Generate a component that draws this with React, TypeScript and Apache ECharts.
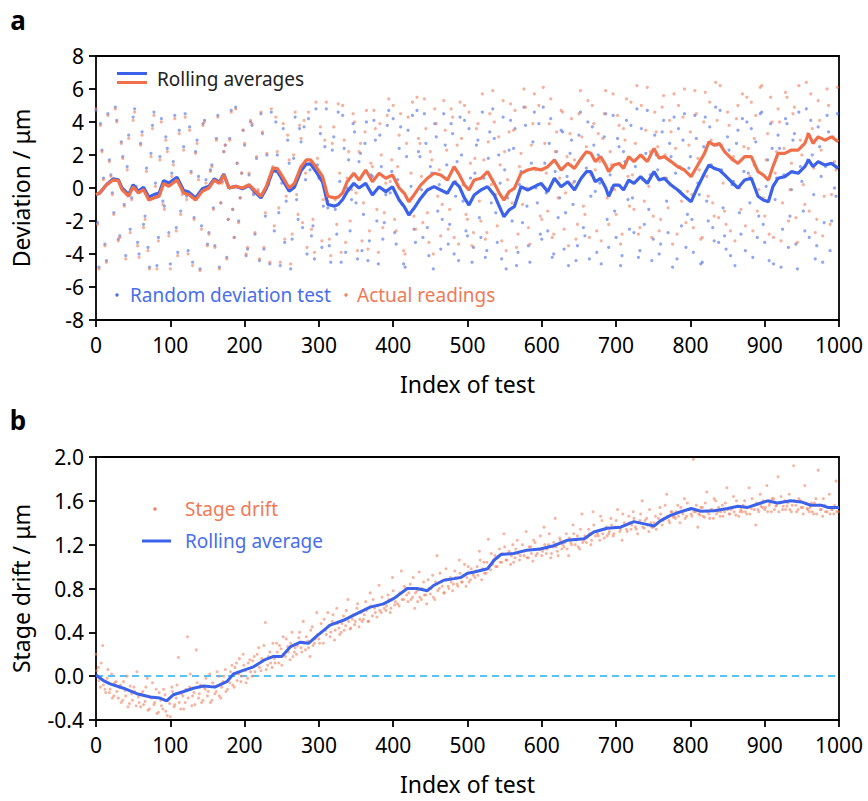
import React, { useEffect, useRef } from "react";
import * as echarts from "echarts";

const FONT = "'Noto Sans', sans-serif";
const BLUE = "#3B62E8";
const ORANGE = "#F0704C";
const BLUE_DOT = "#4C70EA";
const ORANGE_DOT = "#F2805E";
const SKY = "#55C3F5";

const indexTicks = [0, 100, 200, 300, 400, 500, 600, 700, 800, 900, 1000];
const deviationTicks = [-8, -6, -4, -2, 0, 2, 4, 6, 8];
const driftTicks = [-0.4, 0, 0.4, 0.8, 1.2, 1.6, 2.0];

// Panel a: scatter values at test indices 0,4,8,... (set A) and 2,6,10,... (set B)
const STEP_A = 4;
const randomDeviation = [
  4.7, -4.8, 2.3, -3.4, 4.5, 0.8, -1.5, 4.1, -2.9, 1.9,
  -4.1, 3.2, -0.6, 4.8, -3.3, 2.7, -2.2, 1.2, -4.8, 3.8,
  0.3, -3.0, 4.2, -1.1, 2.4, -4.6, 1.6, -2.4, 3.5, -0.2,
  4.5, -3.8, 1.0, -1.8, 2.9, -4.9, 3.9, 0.5, -2.7, 1.4,
  -3.5, 4.4, -0.9, 2.2, -4.2, 3.0, -1.3, 4.9, -2.0, 0.9,
  2.6, -3.7, 4.0, -0.4, 1.8, -4.4, 3.3, -1.7, 0.2, 4.6,
  -2.6, 2.0, -4.7, 3.6, -0.8, 1.5, -3.1, 4.3, -1.9, 2.8,
  3.7, -4.0, 1.1, -2.3, 4.8, 0.6, -3.6, 2.5, -1.2, -4.5,
  3.1, -2.8, 0.4, 4.4, -3.9, 1.7, -0.7, 3.4, -4.3, 2.1,
  -1.6, 4.0, -3.2, 0.7, 2.9, -4.6, 1.3, -2.1, 3.8, -0.3,
  4.2, -3.4, 2.4, -1.0, -4.8, 3.5, 0.1, -2.5, 4.7, 1.9,
  -3.0, 2.7, -4.1, 0.9, 3.9, -1.4, -3.7, 4.5, 1.4, -2.2,
  3.3, -0.5, -4.4, 2.0, 4.1, -2.9, 0.6, -3.6, 2.6, -1.8,
  4.6, -4.2, 1.8, -0.9, 3.0, -3.3, 0.3, 4.3, -4.9, 2.3,
  -2.0, 3.6, -3.9, 1.0, 4.9, -1.1, -4.5, 2.8, 0.0, 3.9,
  -3.1, 1.5, -2.6, 4.2, -4.0, 2.2, -0.6, 3.4, -1.5, -4.7,
  2.9, 0.4, -3.5, 4.6, -2.4, 1.2, -4.3, 3.7, -0.2, 2.0,
  -4.6, 3.1, -1.9, 0.8, 4.4, -3.0, 2.5, -4.1, 1.6, -0.7,
  3.8, -2.7, 4.8, -3.8, 0.5, 2.1, -1.3, -4.4, 3.2, 1.1,
  -3.4, 4.1, -0.8, 2.7, -4.8, 0.9, 3.6, -2.3, 4.5, -1.6,
  1.9, -3.9, 3.0, -0.4, -4.5, 4.3, -2.0, 1.4, -3.2, 2.6,
  4.7, -1.2, -3.7, 2.3, 0.2, -4.7, 3.5, -2.8, 1.0, 4.0,
  -0.9, -4.2, 2.8, -1.7, 4.6, -3.3, 1.7, 3.9, -4.6, 0.6,
  2.4, -2.5, 4.2, -3.6, -0.1, 3.3, -4.9, 1.3, -1.4, 4.8,
  -3.0, 2.0, -4.3, 3.7, 0.7, -2.1, 4.4, -3.8, 1.5, -0.5,
];
const randomDeviationB = [
  -2.1, 3.9, 0.6, -4.4, 1.7, -0.3, 4.9, -3.1, 2.8, -1.0,
  1.3, -2.5, 4.3, 0.1, -4.0, 3.4, -1.7, -3.6, 2.1, 4.6,
  -4.7, 1.9, -0.8, 3.1, -2.7, 0.9, 4.4, -3.9, -1.4, 2.5,
  -0.5, 3.7, -4.5, 2.2, 0.7, -2.3, 4.1, -3.4, 1.1, -1.2,
  3.0, -4.8, 0.4, 2.6, -1.9, 4.7, -3.0, 1.5, -0.6, 3.5,
  -4.1, 0.8, 3.8, -2.8, -0.2, 4.5, -3.7, 2.0, -4.6, 1.2,
  4.0, -1.5, 0.3, -3.3, 2.9, -4.9, 1.8, -0.7, 3.6, -2.4,
  0.5, 4.2, -2.9, -4.3, 1.4, 3.3, -1.1, 4.8, -3.5, 2.3,
  -1.3, 4.6, -4.5, 2.4, 0.0, -2.6, 3.9, -0.9, 1.6, -3.8,
  2.7, -4.4, 0.8, 4.1, -2.0, 3.2, -3.1, -0.4, 4.7, 1.0,
  -2.7, 0.5, 3.7, -4.6, 1.9, -1.6, 4.4, -3.3, 2.2, -0.1,
  4.5, -2.4, 1.3, -4.9, 3.1, 0.2, -1.9, 2.6, -3.4, 3.9,
  -4.0, 1.6, 4.3, -0.8, -2.6, 3.6, -4.5, 0.9, 2.9, -3.0,
  0.6, -3.8, 3.4, 4.8, -1.5, 2.0, -4.3, 1.1, -0.6, 4.1,
  2.4, -4.7, 0.2, -2.1, 3.8, -3.5, 1.5, 4.6, -0.9, -2.8,
  4.9, -0.3, 2.7, -4.2, 1.0, -1.8, 3.5, -3.7, 0.7, 2.1,
  -1.0, -4.4, 3.2, 1.8, -2.9, 4.0, -0.5, 2.6, -3.9, 0.3,
  1.7, 4.5, -3.6, 0.0, -1.4, 3.0, -4.7, 2.2, 4.1, -2.5,
  -0.6, 1.3, -4.2, 3.6, -2.2, 4.7, 0.8, -3.1, 2.0, -4.0,
  3.4, 0.6, -2.7, 1.9, 4.3, -4.3, -0.2, 2.9, -3.6, 1.2,
  -1.9, 4.4, 0.3, -4.6, 2.5, -0.8, 3.7, -2.4, 4.9, -3.3,
  1.1, -2.9, 3.1, -4.1, 0.4, 2.7, -1.5, 4.2, -3.8, 0.9,
  3.6, 1.4, -3.0, 4.5, -2.2, 0.1, -4.4, 2.4, -0.7, 3.2,
  -4.8, 0.8, 3.9, -1.7, 2.9, -3.4, 4.6, 0.4, -2.6, 1.7,
  4.1, -0.4, -3.5, 2.5, -4.5, 1.3, 3.4, -2.0, 0.0, 4.5,
];
const actualReadings = [
  4.8, -4.9, 2.2, -3.5, 4.4, 0.7, -1.6, 4.0, -3.0, 1.8,
  -4.3, 3.0, -0.7, 4.6, -3.5, 2.6, -2.4, 1.0, -4.9, 3.6,
  0.1, -3.2, 4.0, -1.3, 2.2, -4.9, 1.4, -2.6, 3.3, -0.4,
  4.3, -4.0, 0.9, -1.9, 2.7, -5.0, 3.8, 0.3, -2.8, 1.3,
  -3.6, 4.3, -0.9, 2.2, -4.3, 2.9, -1.3, 4.8, -2.1, 0.9,
  2.7, -3.6, 4.1, -0.3, 1.9, -4.3, 3.4, -1.5, 0.3, 4.8,
  -2.3, 2.2, -4.5, 3.9, -0.5, 1.7, -2.8, 4.6, -1.6, 3.0,
  4.1, -3.6, 1.5, -1.9, 5.2, 1.0, -3.2, 2.9, -0.8, -4.1,
  3.7, -2.2, 0.9, 5.0, -3.3, 2.2, -0.1, 4.0, -3.8, 2.7,
  -0.9, 4.7, -2.6, 1.3, 3.6, -3.9, 2.0, -1.5, 4.4, 0.4,
  5.0, -2.6, 3.2, -0.2, -4.0, 4.3, 0.9, -1.7, 5.5, 2.7,
  -2.1, 3.6, -3.3, 1.7, 4.8, -0.5, -2.9, 5.3, 2.3, -1.3,
  4.3, 0.4, -3.4, 3.0, 5.0, -1.9, 1.5, -2.7, 3.6, -0.8,
  5.7, -3.1, 2.8, 0.2, 4.0, -2.3, 1.4, 5.3, -3.8, 3.4,
  -0.9, 4.7, -2.8, 2.1, 6.0, 0.0, -3.4, 3.9, 1.1, 5.0,
  -1.9, 2.7, -1.4, 5.4, -2.8, 3.4, 0.6, 4.6, -0.3, -3.5,
  4.2, 1.7, -2.2, 5.9, -1.1, 2.5, -3.0, 5.0, 1.1, 3.3,
  -3.2, 4.5, -0.6, 2.2, 5.7, -1.6, 3.8, -2.8, 2.9, 0.7,
  5.2, -1.3, 6.2, -2.4, 1.9, 3.5, 0.1, -3.0, 4.6, 2.5,
  -1.9, 5.6, 0.6, 4.1, -3.4, 2.4, 5.0, -0.8, 6.0, -0.2,
  3.4, -2.4, 4.5, 1.1, -3.0, 5.8, -0.5, 2.9, -1.7, 4.1,
  6.2, 0.3, -2.2, 3.8, 1.7, -3.2, 5.0, -1.3, 2.5, 5.5,
  0.7, -2.6, 4.4, -0.1, 6.2, -1.7, 3.3, 5.5, -3.0, 2.2,
  4.0, -0.9, 5.8, -2.0, 1.5, 4.9, -3.3, 2.9, 0.2, 6.4,
  -1.4, 3.6, -2.7, 5.3, 2.3, -0.5, 6.0, -2.2, 3.1, 1.1,
];
const actualReadingsB = [
  -2.2, 3.8, 0.5, -4.5, 1.6, -0.4, 4.8, -3.2, 2.7, -1.1,
  1.1, -2.7, 4.1, -0.1, -4.2, 3.2, -1.9, -3.8, 1.9, 4.4,
  -4.9, 1.7, -1.0, 2.9, -2.9, 0.7, 4.2, -4.1, -1.6, 2.3,
  -0.7, 3.5, -4.7, 2.1, 0.5, -2.5, 4.0, -3.5, 1.0, -1.3,
  2.9, -4.9, 0.3, 2.6, -1.9, 4.6, -3.0, 1.5, -0.6, 3.5,
  -4.0, 0.9, 3.9, -2.7, -0.1, 4.6, -3.6, 2.1, -4.5, 1.3,
  4.3, -1.2, 0.5, -3.1, 3.2, -4.6, 2.0, -0.4, 3.8, -2.1,
  0.9, 4.6, -2.5, -3.9, 1.8, 3.7, -0.7, 5.2, -3.1, 2.7,
  -0.7, 5.1, -3.9, 2.9, 0.6, -2.0, 4.5, -0.3, 2.2, -3.2,
  3.4, -3.7, 1.5, 4.7, -1.3, 3.9, -2.4, 0.3, 5.4, 1.7,
  -1.9, 1.3, 4.5, -3.8, 2.7, -0.8, 5.2, -2.5, 3.0, 0.7,
  5.4, -1.5, 2.2, -4.0, 3.9, 1.1, -1.0, 3.5, -2.5, 4.8,
  -3.0, 2.6, 5.2, 0.2, -1.6, 4.6, -3.5, 1.8, 3.9, -2.0,
  1.7, -2.7, 4.5, 5.9, -0.4, 3.1, -3.2, 2.2, 0.5, 5.1,
  3.5, -3.6, 1.3, -1.0, 4.9, -2.4, 2.6, 5.7, 0.2, -1.7,
  6.1, 0.9, 3.9, -3.0, 2.2, -0.6, 4.7, -2.5, 1.9, 3.3,
  0.3, -3.1, 4.5, 3.1, -1.6, 5.3, 0.8, 3.9, -2.6, 1.6,
  3.0, 5.9, -2.2, 1.4, -0.1, 4.4, -3.4, 3.6, 5.4, -1.1,
  0.8, 2.7, -2.8, 5.0, -0.8, 6.1, 2.2, -1.7, 3.4, -2.6,
  4.9, 2.0, -1.2, 3.4, 5.7, -2.8, 1.3, 4.3, -2.1, 2.6,
  -0.4, 5.9, 1.8, -3.1, 4.0, 0.7, 5.2, -0.9, 6.4, -1.8,
  2.6, -1.4, 4.6, -2.6, 1.9, 4.2, 0.0, 5.7, -2.3, 2.4,
  5.2, 3.0, -1.4, 6.1, -0.6, 1.7, -2.8, 4.0, 0.9, 4.8,
  -3.2, 2.4, 5.5, -0.1, 4.5, -1.8, 6.2, 2.0, -1.0, 3.3,
  5.7, 1.2, -1.9, 4.1, -2.9, 2.9, 5.0, -0.4, 1.6, 6.1,
];

// Panel a: rolling averages [test index, value]
const randomRolling = [
  [0, -0.4], [5, -0.3], [14, 0.2], [23, 0.55], [30, 0.5], [35, 0.0], [44, -0.4], [50, 0.2],
  [57, -0.2], [64, 0.05], [71, -0.55], [78, -0.4], [85, -0.3], [91, 0.45], [98, 0.3], [109, 0.65],
  [118, -0.15], [125, -0.25], [134, -0.6], [143, -0.05], [152, 0.1], [159, 0.55], [166, 0.35],
  [172, 0.85], [179, 0.0], [188, 0.1], [197, -0.05], [206, 0.15], [215, -0.3], [222, -0.6],
  [229, -0.05], [238, 1.05], [244, 1.0], [251, 0.5], [260, -0.2], [267, 0.05], [276, 1.05],
  [283, 1.45], [289, 1.45], [296, 1.0], [305, 0.35], [312, -1.0], [321, -1.1], [326, -1.0],
  [332, -0.7], [338, -0.22], [347, 0.28], [354, 0.0], [363, 0.28], [372, -0.42], [381, 0.08],
  [390, -0.22], [399, 0.08], [408, -0.73], [415, -1.13], [421, -1.64], [428, -1.23], [437, -0.62],
  [446, -0.12], [455, 0.08], [464, -0.12], [473, -0.32], [482, 0.38], [489, 0.08], [496, -0.62],
  [502, -1.03], [509, -0.42], [518, -0.12], [527, 0.08], [536, -0.42], [543, -1.13], [549, -1.74],
  [556, -1.33], [563, -1.13], [572, 0.08], [581, -0.12], [590, 0.08], [599, 0.28], [608, -0.22],
  [617, 0.59], [626, 0.08], [635, 0.38], [644, -0.12], [653, 0.59], [660, 0.99], [666, 0.99],
  [672, 0.38], [679, 0.59], [686, 0.0], [690, -0.5], [697, 0.18], [704, 0.18], [710, -0.12],
  [717, 0.48], [724, 0.28], [733, 0.69], [742, 0.28], [751, 0.99], [758, 0.48], [765, 0.59],
  [774, 0.18], [783, -0.12], [792, -0.5], [801, -0.83], [810, 0.08], [819, 0.89], [825, 1.39],
  [832, 1.19], [839, 1.09], [846, 0.79], [855, 0.38], [864, 0.0], [873, 0.48], [882, 0.59],
  [891, -0.5], [898, -0.73], [905, -0.83], [911, 0.08], [918, 0.59], [927, 0.69], [936, 0.99],
  [945, 0.89], [954, 1.29], [959, 1.7], [965, 1.29], [972, 1.6], [981, 1.39], [990, 1.49], [999, 1.19],
];
const actualRolling = [
  [0, -0.4], [5, -0.3], [14, 0.18], [23, 0.48], [30, 0.45], [35, -0.1], [44, -0.5], [50, 0.08],
  [57, -0.3], [64, -0.1], [71, -0.73], [78, -0.6], [85, -0.5], [91, 0.28], [98, 0.1], [109, 0.48],
  [118, -0.3], [125, -0.4], [134, -0.73], [143, -0.2], [152, 0.0], [159, 0.48], [166, 0.28],
  [172, 0.79], [179, 0.0], [188, 0.1], [197, 0.0], [206, 0.2], [215, -0.2], [222, -0.5],
  [229, 0.08], [238, 1.19], [244, 1.19], [251, 0.69], [260, 0.0], [267, 0.28], [276, 1.29],
  [283, 1.7], [289, 1.7], [296, 1.29], [305, 0.69], [312, -0.5], [321, -0.6], [326, -0.55],
  [332, -0.3], [338, 0.38], [347, 0.89], [354, 0.48], [363, 1.09], [372, 0.38], [381, 0.89],
  [390, 0.59], [399, 0.79], [408, 0.0], [415, -0.32], [421, -0.83], [428, -0.42], [437, 0.18],
  [446, 0.59], [455, 0.89], [464, 0.79], [473, 0.48], [482, 1.29], [489, 0.79], [496, 0.18],
  [502, -0.12], [509, 0.48], [518, 0.59], [527, 0.99], [536, 0.28], [543, -0.32], [549, -0.73],
  [556, -0.22], [563, -0.02], [572, 0.89], [581, 1.09], [590, 1.19], [599, 1.09], [608, 1.29],
  [617, 1.7], [626, 1.09], [635, 1.5], [644, 1.19], [653, 1.8], [660, 2.2], [666, 2.1],
  [672, 1.6], [679, 1.9], [686, 1.39], [690, 0.99], [697, 1.39], [704, 1.49], [710, 1.19],
  [717, 1.9], [724, 1.6], [733, 2.0], [742, 1.6], [751, 2.4], [758, 1.8], [765, 1.9],
  [774, 1.6], [783, 1.29], [792, 1.09], [801, 0.69], [810, 1.39], [819, 2.1], [825, 2.8],
  [832, 2.6], [839, 2.7], [846, 2.2], [855, 1.8], [864, 1.49], [873, 1.9], [882, 1.9],
  [891, 0.99], [898, 0.79], [905, 0.48], [911, 1.29], [918, 2.1], [927, 2.1], [936, 2.3],
  [945, 2.3], [954, 2.7], [959, 3.3], [965, 2.7], [972, 3.1], [981, 2.9], [990, 3.1], [999, 2.8],
];

// Panel b: stage drift at test indices 0,3,6,... (set A) and 1,4,7,... (set B)
const STEP_B = 3;
const stageDrift = [
  0.2, 0.08, -0.1, 0.28, -0.12, -0.02, -0.15, 0.02, -0.18, -0.05,
  -0.2, -0.08, -0.22, -0.13, 0.0, -0.25, -0.16, -0.1, -0.27, -0.19,
  -0.28, -0.14, -0.23, -0.02, -0.3, -0.2, -0.26, -0.12, -0.33, -0.22,
  -0.3, -0.17, -0.36, -0.25, -0.1, -0.28, -0.2, 0.17, -0.3, -0.18,
  -0.24, 0.36, -0.1, -0.27, -0.15, 0.24, -0.2, -0.08, -0.22, -0.12,
  -0.18, 0.02, -0.22, -0.09, -0.14, 0.0, -0.2, -0.05, 0.06, -0.12,
  -0.06, 0.1, -0.1, 0.12, 0.02, -0.05, 0.2, 0.05, -0.02, 0.15,
  0.0, 0.18, 0.1, 0.26, 0.05, 0.14, 0.49, 0.1, 0.22, 0.08,
  0.16, 0.3, 0.12, 0.25, 0.36, 0.18, 0.27, 0.15, 0.4, 0.22,
  0.2, 0.35, 0.26, 0.5, 0.24, 0.32, 0.18, 0.45, 0.3, 0.58,
  0.34, 0.48, 0.3, 0.42, 0.58, 0.36, 0.5, 0.33, 0.62, 0.44,
  0.4, 0.55, 0.46, 0.7, 0.43, 0.52, 0.47, 0.62, 0.45, 0.58,
  0.52, 0.68, 0.5, 0.76, 0.55, 0.62, 0.54, 0.83, 0.58, 0.66,
  0.6, 0.74, 0.58, 0.9, 0.65, 0.72, 0.64, 0.96, 0.7, 0.8,
  0.68, 0.84, 0.72, 0.62, 0.78, 0.95, 0.7, 0.86, 0.74, 0.88,
  0.75, 0.92, 0.7, 1.1, 0.8, 0.86, 0.76, 0.98, 0.82, 0.9,
  0.78, 0.96, 0.84, 1.06, 0.86, 0.92, 0.82, 1.0, 0.88, 0.94,
  0.9, 1.0, 1.14, 0.88, 1.04, 0.94, 1.25, 0.97, 1.02, 1.1,
  1.0, 1.16, 1.04, 1.3, 1.06, 1.12, 1.02, 1.2, 1.08, 1.24,
  1.06, 1.14, 1.1, 1.32, 1.08, 1.18, 1.05, 1.22, 1.12, 1.16,
  1.1, 1.36, 1.12, 1.2, 1.08, 1.18, 1.44, 1.14, 1.26, 1.16,
  1.18, 1.3, 1.1, 1.22, 1.38, 1.2, 1.28, 1.16, 1.48, 1.24,
  1.22, 1.34, 1.2, 1.5, 1.28, 1.3, 1.24, 1.42, 1.26, 1.36,
  1.3, 1.44, 1.28, 1.36, 1.52, 1.32, 1.24, 1.4, 1.34, 1.46,
  1.34, 1.5, 1.36, 1.3, 1.42, 1.6, 1.35, 1.44, 1.32, 1.4,
  1.36, 1.46, 1.4, 1.54, 1.38, 1.44, 1.66, 1.42, 1.5, 1.45,
  1.44, 1.56, 1.4, 1.5, 1.62, 1.46, 1.52, 1.48, 1.98, 1.5,
  1.36, 1.47, 1.54, 1.45, 1.68, 1.48, 1.52, 1.44, 1.6, 1.5,
  1.46, 1.56, 1.5, 1.72, 1.48, 1.52, 1.64, 1.47, 1.55, 1.5,
  1.5, 1.6, 1.48, 1.72, 1.53, 1.56, 1.38, 1.52, 1.66, 1.54,
  1.52, 1.74, 1.56, 1.5, 1.62, 1.55, 1.82, 1.58, 1.52, 1.6,
  1.55, 1.66, 1.5, 1.92, 1.56, 1.52, 1.6, 1.54, 1.74, 1.53,
  1.5, 1.58, 1.48, 1.62, 1.88, 1.52, 1.46, 1.56, 1.5, 1.66,
  1.52, 1.48, 1.78, 1.5,
];
const stageDriftB = [
  0.05, -0.04, 0.12, -0.08, -0.15, 0.06, -0.12, -0.2, -0.06, -0.14,
  -0.1, -0.24, -0.05, -0.18, -0.28, -0.09, -0.22, -0.14, 0.04, -0.24,
  -0.16, -0.26, -0.1, -0.31, -0.19, -0.06, -0.24, -0.34, -0.15, -0.27,
  -0.12, -0.32, -0.22, -0.37, -0.14, -0.26, -0.08, -0.24, -0.16, -0.3,
  -0.12, -0.2, 0.02, -0.18, -0.26, -0.06, -0.16, -0.24, -0.1, -0.02,
  -0.14, -0.24, -0.06, -0.16, 0.04, -0.18, -0.1, 0.0, -0.14, -0.04,
  0.04, -0.08, 0.08, -0.04, 0.16, 0.0, 0.1, -0.06, 0.12, 0.04,
  0.14, 0.04, 0.2, 0.08, 0.16, 0.28, 0.06, 0.18, 0.12, 0.3,
  0.12, 0.22, 0.28, 0.1, 0.2, 0.34, 0.22, 0.3, 0.18, 0.26,
  0.28, 0.4, 0.22, 0.3, 0.36, 0.26, 0.42, 0.28, 0.34, 0.38,
  0.3, 0.4, 0.52, 0.38, 0.46, 0.4, 0.56, 0.42, 0.48, 0.38,
  0.48, 0.42, 0.6, 0.5, 0.44, 0.56, 0.5, 0.66, 0.52, 0.5,
  0.56, 0.6, 0.5, 0.64, 0.7, 0.58, 0.64, 0.6, 0.72, 0.62,
  0.64, 0.7, 0.62, 0.78, 0.68, 0.66, 0.76, 0.7, 0.82, 0.74,
  0.76, 0.7, 0.9, 0.76, 0.68, 0.72, 0.8, 0.74, 0.66, 0.8,
  0.8, 0.72, 0.86, 0.78, 0.94, 0.82, 0.76, 0.88, 0.8, 0.86,
  0.84, 0.9, 0.82, 0.94, 0.86, 1.02, 0.9, 0.86, 0.98, 0.92,
  0.96, 0.92, 1.06, 0.98, 0.94, 1.04, 1.0, 1.12, 1.06, 1.0,
  1.08, 1.04, 1.12, 1.18, 1.06, 1.14, 1.1, 1.04, 1.16, 1.12,
  1.1, 1.2, 1.14, 1.08, 1.18, 1.12, 1.24, 1.1, 1.16, 1.28,
  1.14, 1.2, 1.16, 1.3, 1.12, 1.22, 1.18, 1.1, 1.24, 1.2,
  1.22, 1.16, 1.26, 1.2, 1.3, 1.24, 1.18, 1.34, 1.22, 1.28,
  1.26, 1.3, 1.24, 1.38, 1.32, 1.28, 1.46, 1.3, 1.34, 1.28,
  1.32, 1.38, 1.3, 1.42, 1.36, 1.34, 1.48, 1.38, 1.32, 1.4,
  1.38, 1.44, 1.34, 1.4, 1.48, 1.36, 1.42, 1.38, 1.52, 1.36,
  1.4, 1.34, 1.44, 1.48, 1.42, 1.56, 1.46, 1.4, 1.5, 1.46,
  1.5, 1.46, 1.54, 1.48, 1.44, 1.58, 1.52, 1.46, 1.5, 1.56,
  1.48, 1.54, 1.46, 1.58, 1.5, 1.44, 1.52, 1.62, 1.48, 1.54,
  1.5, 1.46, 1.58, 1.52, 1.48, 1.54, 1.5, 1.6, 1.46, 1.52,
  1.56, 1.5, 1.54, 1.48, 1.62, 1.52, 1.58, 1.5, 1.55, 1.6,
  1.54, 1.5, 1.58, 1.62, 1.52, 1.56, 1.5, 1.64, 1.55, 1.52,
  1.58, 1.52, 1.56, 1.6, 1.5, 1.62, 1.54, 1.48, 1.58, 1.52,
  1.54, 1.5, 1.58, 1.48, 1.56, 1.52, 1.62, 1.5, 1.54, 1.48,
  1.52, 1.56, 1.5,
];
const driftRolling = [
  [0, 0.01], [10, -0.04], [19, -0.07], [37, -0.11], [55, -0.16], [73, -0.19], [86, -0.2],
  [95, -0.225], [104, -0.17], [118, -0.14], [131, -0.11], [145, -0.09], [160, -0.1], [176, -0.05],
  [185, 0.02], [199, 0.055], [212, 0.085], [226, 0.146], [239, 0.18], [250, 0.18], [262, 0.27],
  [275, 0.31], [286, 0.3], [297, 0.365], [315, 0.465], [333, 0.51], [351, 0.57], [369, 0.63],
  [387, 0.66], [401, 0.71], [419, 0.8], [432, 0.8], [446, 0.78], [455, 0.83], [468, 0.875],
  [482, 0.89], [491, 0.9], [500, 0.94], [509, 0.95], [527, 0.98], [536, 1.06], [545, 1.11],
  [562, 1.12], [580, 1.15], [598, 1.16], [616, 1.19], [634, 1.24], [657, 1.255], [670, 1.315],
  [688, 1.35], [706, 1.36], [724, 1.41], [738, 1.39], [751, 1.37], [760, 1.42], [774, 1.47],
  [787, 1.5], [801, 1.53], [814, 1.505], [832, 1.51], [850, 1.53], [864, 1.55], [877, 1.54],
  [895, 1.58], [904, 1.6], [917, 1.58], [935, 1.6], [949, 1.59], [962, 1.56], [976, 1.56],
  [985, 1.54], [1000, 1.54],
];

const withIndex = (vals: number[], step: number, offset: number) =>
  vals.map((v, k) => [offset + k * step, v]);

const axisLineStyle = { color: "#000", width: 1.8 };
const labelStyle = { color: "#000", fontSize: 21, fontFamily: FONT };
const nameStyle = { color: "#000", fontSize: 23, fontFamily: FONT };

function xAxisFor(gridIndex: number) {
  return {
    gridIndex,
    type: "value",
    position: "bottom",
    min: indexTicks[0],
    max: indexTicks[indexTicks.length - 1],
    interval: 100,
    name: "Index of test",
    nameLocation: "middle",
    nameGap: 52,
    nameTextStyle: nameStyle,
    axisLine: { show: true, onZero: false, lineStyle: axisLineStyle },
    axisTick: { show: true, inside: false, length: 7, lineStyle: axisLineStyle },
    axisLabel: { ...labelStyle, margin: 14, formatter: (v: number) => String(v) },
    splitLine: { show: false },
  };
}

// plain frame lines on the top and right sides of a panel
function frameX(gridIndex: number) {
  return {
    gridIndex,
    type: "value",
    position: "top",
    min: indexTicks[0],
    max: indexTicks[indexTicks.length - 1],
    axisLine: { show: true, onZero: false, lineStyle: axisLineStyle },
    axisTick: { show: false },
    axisLabel: { show: false },
    splitLine: { show: false },
  };
}
function frameY(gridIndex: number, ticks: number[]) {
  return {
    gridIndex,
    type: "value",
    position: "right",
    min: ticks[0],
    max: ticks[ticks.length - 1],
    axisLine: { show: true, onZero: false, lineStyle: axisLineStyle },
    axisTick: { show: false },
    axisLabel: { show: false },
    splitLine: { show: false },
  };
}

const legendText = (id: string, x: number, y: number, text: string, fill: string) => ({
  type: "text",
  id,
  x,
  y,
  z: 100,
  style: {
    text,
    fill,
    font: `19px ${FONT}`,
    verticalAlign: "middle",
  },
});

const legendRect = (id: string, x: number, y: number, w: number, fill: string) => ({
  type: "rect",
  id,
  z: 100,
  shape: { x, y, width: w, height: 3 },
  style: { fill },
});

const legendDot = (id: string, cx: number, cy: number, fill: string) => ({
  type: "circle",
  id,
  z: 100,
  shape: { cx, cy, r: 1.7 },
  style: { fill },
});

export default function App() {
  const ref = useRef<HTMLDivElement>(null);
  useEffect(() => {
    if (!ref.current) return;
    const chart = echarts.init(ref.current, null, { renderer: "svg" });
    const option: any = {
      animation: false,
      textStyle: { fontFamily: FONT },
      grid: [
        { left: 96, top: 56, width: 743, height: 264 },
        { left: 96, top: 457, width: 743, height: 263 },
      ],
      xAxis: [xAxisFor(0), xAxisFor(1), frameX(0), frameX(1)],
      yAxis: [
        {
          gridIndex: 0,
          type: "value",
          position: "left",
          min: deviationTicks[0],
          max: deviationTicks[deviationTicks.length - 1],
          interval: 2,
          name: "Deviation / μm",
          nameLocation: "middle",
          nameGap: 64,
          nameTextStyle: nameStyle,
          axisLine: { show: true, onZero: false, lineStyle: axisLineStyle },
          axisTick: { show: true, length: 7, lineStyle: axisLineStyle },
          axisLabel: { ...labelStyle, margin: 12 },
          splitLine: { show: false },
        },
        {
          gridIndex: 1,
          type: "value",
          position: "left",
          min: driftTicks[0],
          max: driftTicks[driftTicks.length - 1],
          interval: 0.4,
          name: "Stage drift / μm",
          nameLocation: "middle",
          nameGap: 64,
          nameTextStyle: nameStyle,
          axisLine: { show: true, onZero: false, lineStyle: axisLineStyle },
          axisTick: { show: true, length: 7, lineStyle: axisLineStyle },
          axisLabel: { ...labelStyle, margin: 12, formatter: (v: number) => v.toFixed(1) },
          splitLine: { show: false },
        },
        frameY(0, deviationTicks),
        frameY(1, driftTicks),
      ],
      series: [
        {
          name: "Random deviation test",
          type: "scatter",
          xAxisIndex: 0,
          yAxisIndex: 0,
          data: [...withIndex(randomDeviation, STEP_A, 0), ...withIndex(randomDeviationB, STEP_A, 2)],
          symbolSize: 3.2,
          itemStyle: { color: BLUE_DOT, opacity: 0.62 },
          z: 2,
        },
        {
          name: "Actual readings",
          type: "scatter",
          xAxisIndex: 0,
          yAxisIndex: 0,
          data: [...withIndex(actualReadings, STEP_A, 0), ...withIndex(actualReadingsB, STEP_A, 2)],
          symbolSize: 3.2,
          itemStyle: { color: ORANGE_DOT, opacity: 0.62 },
          z: 2,
        },
        {
          name: "Rolling random",
          type: "line",
          xAxisIndex: 0,
          yAxisIndex: 0,
          data: randomRolling,
          showSymbol: false,
          symbol: "none",
          lineStyle: { color: BLUE, width: 3.2 },
          z: 3,
        },
        {
          name: "Rolling actual",
          type: "line",
          xAxisIndex: 0,
          yAxisIndex: 0,
          data: actualRolling,
          showSymbol: false,
          symbol: "none",
          lineStyle: { color: ORANGE, width: 3.2 },
          z: 4,
        },
        {
          name: "Stage drift",
          type: "scatter",
          xAxisIndex: 1,
          yAxisIndex: 1,
          data: [...withIndex(stageDrift, STEP_B, 0), ...withIndex(stageDriftB, STEP_B, 1)],
          symbolSize: 3,
          itemStyle: { color: ORANGE_DOT, opacity: 0.6 },
          z: 2,
          markLine: {
            silent: true,
            symbol: "none",
            label: { show: false },
            lineStyle: { color: SKY, width: 1.8, type: [7, 5] },
            data: [{ yAxis: 0 }],
            z: 1,
          },
        },
        {
          name: "Rolling average",
          type: "line",
          xAxisIndex: 1,
          yAxisIndex: 1,
          data: driftRolling,
          showSymbol: false,
          symbol: "none",
          lineStyle: { color: BLUE, width: 3 },
          z: 4,
        },
      ],
      graphic: [
        legendRect("legRollBlue", 117, 72, 30, BLUE),
        legendRect("legRollOrange", 117, 81, 30, ORANGE),
        legendText("legRollText", 157, 79, "Rolling averages", "#222"),
        legendDot("legRandDot", 117, 295, BLUE_DOT),
        legendText("legRandText", 130, 295, "Random deviation test", "#4A6EEA"),
        legendDot("legActDot", 346, 295, ORANGE_DOT),
        legendText("legActText", 357, 295, "Actual readings", "#F07A58"),
        legendDot("legDriftDot", 155, 509, ORANGE_DOT),
        legendText("legDriftText", 185, 509, "Stage drift", "#F07A58"),
        legendRect("legAvgBar", 142, 539.5, 29, BLUE),
        legendText("legAvgText", 185, 541, "Rolling average", "#4A6EEA"),
        { type: "text", id: "labelA", x: 18, y: 20, style: { text: "a", fill: "#000", font: `bold 26px ${FONT}`, align: "center", verticalAlign: "middle" } },
        { type: "text", id: "labelB", x: 18, y: 420, style: { text: "b", fill: "#000", font: `bold 26px ${FONT}`, align: "center", verticalAlign: "middle" } },
      ],
    };
    chart.setOption(option);
    return () => chart.dispose();
  }, []);
  return (
    <div
      ref={ref}
      style={{ position: "absolute", left: 0, top: 0, width: 868, height: 801, background: "#fff" }}
    />
  );
}
